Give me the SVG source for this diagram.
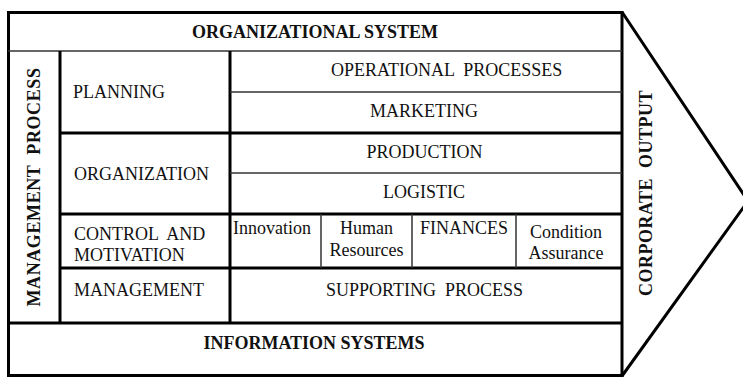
<svg xmlns="http://www.w3.org/2000/svg" width="743" height="378" viewBox="0 0 743 378">
<style>
.t{font-family:"Liberation Serif","Times New Roman",serif;font-size:18px;fill:#111}
.b{font-weight:bold}
.m{text-anchor:middle}
.thick{stroke:#000;stroke-width:3;fill:none}
.thin{stroke:#333;stroke-width:1.5;fill:none}
</style>
<rect width="743" height="378" fill="#fff"/>
<g id="connectors">
<polyline class="thick" points="622,12 748,201 622,376"/>
</g>
<g id="frame">
<rect class="thick" x="8.5" y="12.5" width="613.5" height="363"/>
<line class="thin" x1="8" y1="51" x2="622" y2="51"/>
<line class="thick" x1="60" y1="51" x2="60" y2="323"/>
<line class="thick" x1="230" y1="51" x2="230" y2="323"/>
<line class="thick" x1="60" y1="133" x2="622" y2="133"/>
<line class="thick" x1="60" y1="214" x2="622" y2="214"/>
<line class="thick" x1="60" y1="268" x2="622" y2="268"/>
<line class="thick" x1="8" y1="323" x2="622" y2="323"/>
<line class="thin" x1="230" y1="92" x2="622" y2="92"/>
<line class="thin" x1="230" y1="173" x2="622" y2="173"/>
<line class="thin" x1="321" y1="214" x2="321" y2="268"/>
<line class="thin" x1="412" y1="214" x2="412" y2="268"/>
<line class="thin" x1="516" y1="214" x2="516" y2="268"/>
</g>
<g id="org-system"><text class="t b m" x="315" y="38">ORGANIZATIONAL SYSTEM</text></g>
<g id="management-process"><text class="t b m" transform="translate(40,187) rotate(-90)" letter-spacing="0.6" xml:space="preserve">MANAGEMENT  PROCESS</text></g>
<g id="corporate-output"><text class="t b m" transform="translate(652,193) rotate(-90)" letter-spacing="0.5" xml:space="preserve">CORPORATE  OUTPUT</text></g>
<g id="planning"><text class="t" x="73" y="98">PLANNING</text></g>
<g id="organization"><text class="t" x="74" y="180">ORGANIZATION</text></g>
<g id="control"><text class="t" x="74" y="240" xml:space="preserve">CONTROL  AND</text><text class="t" x="74" y="261">MOTIVATION</text></g>
<g id="management"><text class="t" x="74" y="296">MANAGEMENT</text></g>
<g id="operational"><text class="t" x="331" y="76" xml:space="preserve">OPERATIONAL  PROCESSES</text></g>
<g id="marketing"><text class="t m" x="424" y="117">MARKETING</text></g>
<g id="production"><text class="t m" x="424.5" y="158">PRODUCTION</text></g>
<g id="logistic"><text class="t m" x="424" y="198">LOGISTIC</text></g>
<g id="innovation"><text class="t" x="233" y="234">Innovation</text></g>
<g id="human"><text class="t m" x="366.5" y="234">Human</text><text class="t m" x="366.5" y="256">Resources</text></g>
<g id="finances"><text class="t m" x="464" y="234">FINANCES</text></g>
<g id="condition"><text class="t m" x="566" y="238">Condition</text><text class="t m" x="566" y="259">Assurance</text></g>
<g id="supporting"><text class="t m" x="424.5" y="296" xml:space="preserve">SUPPORTING  PROCESS</text></g>
<g id="info-systems"><text class="t b m" x="314" y="349">INFORMATION SYSTEMS</text></g>
</svg>
